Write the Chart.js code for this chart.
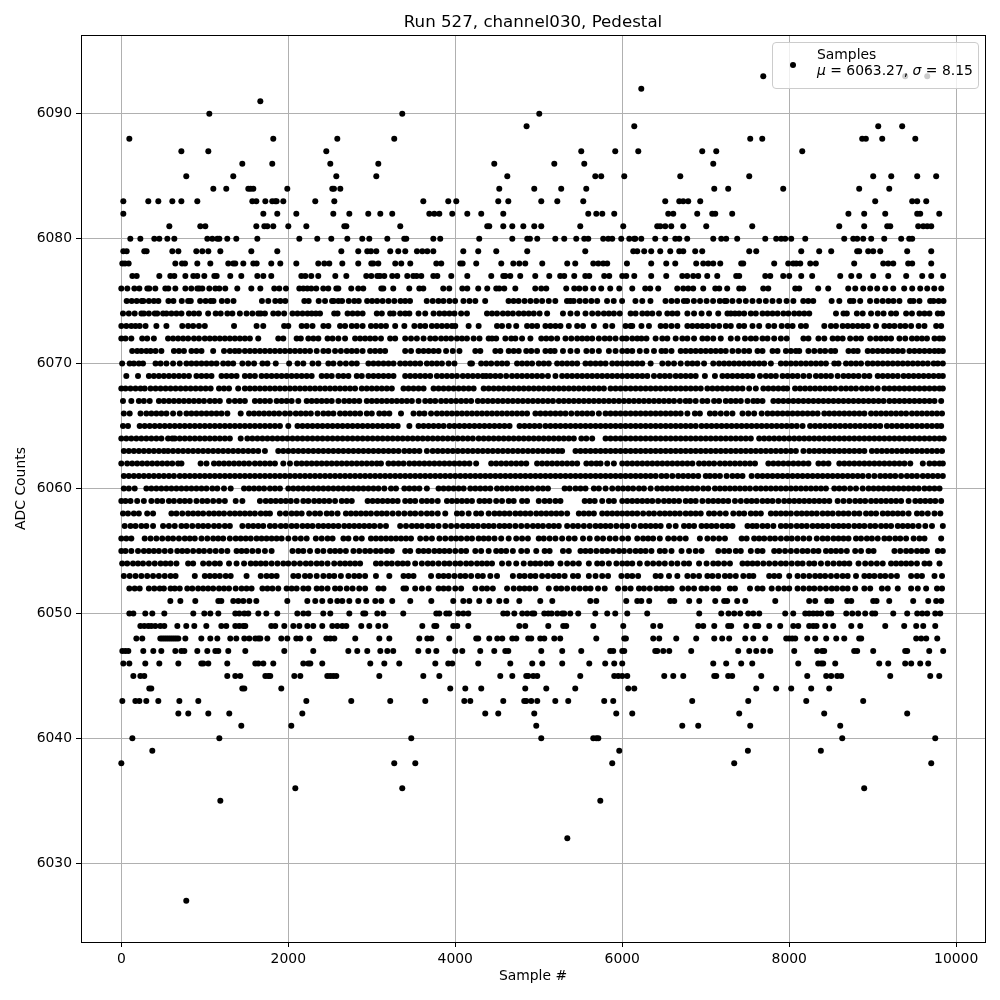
<!DOCTYPE html>
<html>
<head>
<meta charset="utf-8">
<title>Run 527, channel030, Pedestal</title>
<script src="https://cdn.jsdelivr.net/npm/chart.js@4/dist/chart.umd.min.js"></script>
<style>
  html, body { margin: 0; background: #fff; }
  #wrap { position: relative; width: 1000px; height: 1000px; }
  #legend {
    position: absolute; left: 772px; top: 42px; width: 205px; height: 45px;
    background: rgba(255,255,255,0.8); border: 1px solid #ccc; border-radius: 4px;
    font: 13.9px "DejaVu Sans"; color: #000; line-height: 16px;
  }
  #legend .dot { position: absolute; left: 17px; top: 19px; width: 6px; height: 6px; border-radius: 50%; background: #000; }
  #legend .txt { position: absolute; left: 44px; top: 3px; white-space: nowrap; }
</style>
</head>
<body>
<div id="wrap">
  <canvas id="c" width="1000" height="1000"></canvas>
  <div id="legend"><span class="dot"></span><div class="txt">Samples<br><i>μ</i> = 6063.27, <i>σ</i> = 8.15</div></div>
</div>
<script>
const xTicks = [0, 2000, 4000, 6000, 8000, 10000];
const yTicks = [6030, 6040, 6050, 6060, 6070, 6080, 6090];

// sample numbers, one list per ADC level
const s6027 = [778];
const s6032 = [5342];
const s6035 = [1186, 5737];
const s6036 = [2084, 3365, 8898];
const s6038 = [0, 3269, 3521, 5880, 7341, 9701];
const s6039 = [371, 5964, 7505, 8379];
const s6040 = [132, 1174, 3473, 5030, 5653, 5689, 5713, 8635, 9749];
const s6041 = [1437, 2036, 4970, 6719, 6910, 7533, 8611];
const s6042 = [683, 802, 1042, 1293, 2168, 4359, 4515, 4946, 5928, 6120, 7401, 8419, 9413];
const s6043 = [12, 168, 216, 299, 443, 695, 922, 2216, 2754, 3221, 3641, 4108, 4180, 4575, 4826, 4850, 4910, 4982, 5198, 5353, 5784, 5892, 6838, 7509, 8204, 8886];
const s6044 = [335, 359, 1449, 1473, 1916, 3940, 4120, 4311, 4838, 5090, 5437, 6072, 6144, 7605, 7844, 8024, 8263, 8479];
const s6045 = [144, 228, 275, 1269, 1365, 1425, 1725, 1760, 1784, 2072, 2144, 2467, 2503, 2539, 2575, 3090, 3617, 3809, 4539, 4683, 4850, 4874, 4934, 4982, 5497, 5904, 5952, 6000, 6060, 6503, 6611, 6731, 7102, 7126, 7269, 7317, 7665, 8216, 8443, 8503, 8575, 8623, 9210, 9689, 9797];
const s6046 = [24, 96, 287, 455, 683, 958, 982, 1042, 1269, 1605, 1641, 1701, 1820, 2180, 2240, 2264, 2407, 2982, 3150, 3329, 3761, 3916, 3964, 4275, 4659, 4922, 5042, 5281, 5605, 5796, 5904, 6000, 7090, 7245, 7425, 7557, 8108, 8347, 8383, 8407, 8551, 9078, 9186, 9389, 9461, 9569, 9665];
const s6047 = [12, 48, 84, 263, 383, 479, 647, 719, 755, 910, 1030, 1126, 1162, 1281, 1485, 1952, 2299, 2719, 2826, 2946, 3102, 3186, 3257, 3557, 3677, 3773, 4000, 4084, 4299, 4467, 4599, 4635, 5030, 5281, 5509, 5856, 5892, 6000, 6024, 6395, 6419, 6491, 6563, 6826, 7389, 7521, 7605, 7689, 7773, 8060, 8335, 8395, 8419, 8778, 8814, 9006, 9389, 9413, 9677, 9844];
const s6048 = [180, 251, 467, 491, 515, 539, 563, 587, 611, 635, 659, 683, 767, 958, 1066, 1150, 1305, 1377, 1473, 1533, 1605, 1641, 1665, 1749, 1916, 1988, 2096, 2144, 2252, 2455, 2503, 2551, 2802, 3090, 3210, 3569, 3665, 3713, 3928, 4251, 4275, 4407, 4503, 4563, 4683, 4731, 4874, 4910, 5018, 5066, 5186, 5257, 5689, 6024, 6044, 6371, 6443, 6647, 6886, 7102, 7197, 7281, 7473, 7569, 7713, 7964, 8000, 8036, 8072, 8216, 8311, 8443, 8563, 8659, 8838, 8862, 9521, 9581, 9641, 9773];
const s6049 = [228, 275, 323, 359, 407, 467, 515, 671, 778, 874, 1018, 1198, 1257, 1365, 1413, 1461, 1485, 1796, 1844, 1952, 2060, 2132, 2228, 2299, 2407, 2527, 2587, 2647, 2695, 2874, 2970, 3078, 3162, 3605, 3749, 3773, 3976, 4024, 4156, 4767, 4838, 5114, 5293, 5329, 5653, 6012, 6371, 6455, 6910, 6970, 7102, 7269, 7305, 7485, 7593, 7629, 7761, 7892, 8048, 8108, 8239, 8287, 8327, 8431, 8527, 8743, 8851, 9150, 9377, 9521, 9605, 9749];
const s6050 = [96, 144, 287, 371, 515, 862, 994, 1066, 1162, 1365, 1413, 1473, 1521, 1641, 1737, 1868, 2108, 2180, 2240, 2419, 2503, 2731, 2898, 2922, 3066, 3138, 3377, 3773, 3809, 3892, 3928, 4036, 4096, 4156, 4575, 4623, 4707, 4802, 4862, 4922, 4946, 5066, 5114, 5154, 5222, 5281, 5305, 5377, 5473, 5677, 5820, 5916, 6060, 6299, 6922, 7186, 7273, 7341, 7413, 7509, 7569, 7641, 7952, 8048, 8192, 8239, 8287, 8335, 8383, 8467, 8503, 8683, 8755, 8826, 8910, 8994, 9030, 9246, 9413, 9533, 9593, 9653, 9749, 9809];
const s6051 = [587, 707, 886, 1162, 1198, 1341, 1401, 1461, 1533, 1617, 1988, 2228, 2323, 2407, 2503, 2587, 2647, 2731, 2838, 2934, 3042, 3114, 3245, 3461, 3713, 3976, 4096, 4168, 4287, 4407, 4527, 4611, 4767, 5018, 5162, 5617, 5689, 6048, 6180, 6228, 6323, 6575, 6623, 6802, 6922, 7114, 7221, 7257, 7377, 7473, 7833, 8239, 8311, 8455, 8503, 8695, 8743, 9006, 9046, 9198, 9485, 9665, 9760, 9821];
const s6052 = [96, 160, 220, 330, 395, 460, 510, 590, 640, 700, 790, 850, 920, 980, 1040, 1100, 1170, 1230, 1290, 1370, 1440, 1500, 1560, 1690, 1750, 1810, 1880, 1980, 2040, 2100, 2180, 2240, 2340, 2400, 2470, 2560, 2620, 2700, 2770, 2850, 2920, 3080, 3140, 3380, 3410, 3520, 3600, 3680, 3800, 3860, 3920, 4000, 4070, 4240, 4320, 4380, 4450, 4620, 4700, 4770, 4830, 4890, 4960, 5120, 5210, 5270, 5340, 5420, 5490, 5560, 5620, 5710, 5790, 5950, 6030, 6100, 6200, 6260, 6330, 6410, 6470, 6530, 6590, 6720, 6790, 6860, 6950, 7010, 7090, 7150, 7290, 7350, 7530, 7620, 7680, 7790, 7870, 7940, 8000, 8100, 8170, 8240, 8300, 8370, 8440, 8510, 8570, 8640, 8700, 8790, 8900, 8970, 9110, 9180, 9300, 9460, 9540, 9640, 9770, 9830];
const s6053 = [30, 100, 170, 240, 310, 380, 450, 520, 590, 650, 880, 1000, 1060, 1120, 1180, 1250, 1310, 1500, 1670, 1740, 1800, 1860, 2060, 2120, 2200, 2260, 2340, 2420, 2490, 2550, 2630, 2720, 2790, 2850, 2920, 3050, 3210, 3380, 3440, 3500, 3710, 3800, 3860, 3920, 3990, 4060, 4120, 4190, 4270, 4330, 4420, 4500, 4690, 4770, 4830, 4900, 4960, 5040, 5110, 5180, 5240, 5310, 5410, 5470, 5600, 5680, 5760, 5830, 5990, 6060, 6120, 6190, 6400, 6460, 6560, 6660, 6780, 6850, 6920, 7020, 7080, 7150, 7230, 7290, 7360, 7450, 7520, 7570, 7760, 7820, 7880, 8000, 8100, 8170, 8240, 8310, 8370, 8430, 8500, 8570, 8640, 8700, 8800, 8900, 8960, 9020, 9090, 9150, 9220, 9290, 9460, 9530, 9590, 9740, 9830];
const s6054 = [10, 70, 140, 200, 260, 330, 400, 470, 530, 590, 660, 800, 860, 980, 1050, 1120, 1180, 1290, 1380, 1470, 1550, 1610, 1670, 1730, 1800, 1870, 1940, 2000, 2070, 2140, 2210, 2270, 2340, 2400, 2470, 2550, 2620, 2680, 2740, 2800, 2860, 3050, 3110, 3180, 3240, 3310, 3370, 3430, 3520, 3600, 3670, 3730, 3800, 3870, 3930, 4000, 4060, 4130, 4190, 4260, 4320, 4380, 4440, 4560, 4640, 4730, 4820, 4900, 4960, 5020, 5090, 5150, 5260, 5340, 5410, 5480, 5600, 5700, 5760, 5840, 5930, 6000, 6060, 6120, 6210, 6300, 6370, 6440, 6510, 6590, 6660, 6740, 6800, 6920, 7010, 7090, 7150, 7220, 7290, 7440, 7500, 7560, 7620, 7690, 7760, 7830, 7900, 7960, 8030, 8100, 8160, 8240, 8300, 8380, 8460, 8530, 8600, 8660, 8720, 8830, 8910, 8980, 9050, 9120, 9220, 9280, 9340, 9400, 9460, 9530, 9620, 9680, 9800];
const s6055 = [0, 50, 120, 200, 270, 330, 390, 450, 520, 590, 670, 730, 790, 860, 930, 990, 1060, 1130, 1200, 1270, 1380, 1440, 1500, 1570, 1640, 1720, 1800, 2050, 2120, 2180, 2260, 2350, 2420, 2500, 2560, 2620, 2690, 2780, 2850, 2920, 2980, 3050, 3110, 3180, 3240, 3400, 3460, 3560, 3620, 3680, 3750, 3810, 3870, 3930, 4000, 4070, 4130, 4240, 4310, 4400, 4490, 4550, 4610, 4690, 4790, 4860, 4970, 5070, 5130, 5290, 5360, 5500, 5560, 5620, 5690, 5760, 5820, 5890, 5960, 6020, 6090, 6160, 6220, 6280, 6350, 6450, 6510, 6590, 6710, 6800, 6880, 6950, 7150, 7220, 7280, 7360, 7420, 7540, 7620, 7680, 7820, 7880, 7950, 8020, 8090, 8160, 8220, 8290, 8350, 8440, 8500, 8560, 8620, 8690, 8790, 8860, 8950, 9010, 9260, 9330, 9400, 9460, 9530, 9590, 9650, 9780, 9840];
const s6056 = [0, 60, 120, 280, 350, 420, 490, 560, 620, 690, 760, 820, 880, 960, 1030, 1100, 1160, 1220, 1300, 1370, 1430, 1490, 1550, 1620, 1680, 1740, 1800, 1860, 1920, 2000, 2080, 2150, 2220, 2330, 2400, 2470, 2530, 2660, 2720, 2810, 2880, 2990, 3050, 3110, 3170, 3230, 3290, 3350, 3410, 3470, 3580, 3650, 3720, 3810, 3880, 3950, 4010, 4070, 4140, 4200, 4280, 4340, 4400, 4470, 4550, 4640, 4730, 4800, 4870, 5000, 5060, 5130, 5200, 5280, 5360, 5430, 5530, 5610, 5700, 5770, 5850, 5920, 6000, 6070, 6180, 6250, 6310, 6370, 6450, 6550, 6620, 6690, 6760, 6930, 7020, 7090, 7160, 7230, 7430, 7490, 7580, 7640, 7700, 7770, 7830, 7900, 7970, 8030, 8100, 8170, 8240, 8330, 8400, 8460, 8530, 8590, 8650, 8710, 8800, 8860, 8930, 8990, 9060, 9140, 9200, 9270, 9330, 9400, 9490, 9560, 9620, 9820];
const s6057 = [40, 110, 170, 240, 300, 380, 500, 570, 640, 720, 780, 850, 920, 980, 1040, 1110, 1170, 1240, 1300, 1450, 1520, 1580, 1640, 1700, 1780, 1840, 1910, 1970, 2040, 2100, 2170, 2230, 2290, 2360, 2420, 2480, 2540, 2600, 2670, 2730, 2790, 2850, 2910, 2970, 3030, 3100, 3170, 3340, 3410, 3480, 3540, 3600, 3670, 3730, 3800, 3880, 3950, 4020, 4090, 4150, 4210, 4270, 4340, 4400, 4460, 4530, 4590, 4650, 4720, 4790, 4860, 4930, 4990, 5050, 5120, 5180, 5240, 5340, 5410, 5470, 5540, 5610, 5680, 5740, 5800, 5860, 5930, 6000, 6060, 6140, 6220, 6280, 6340, 6400, 6460, 6560, 6640, 6740, 6800, 6860, 6950, 7010, 7070, 7130, 7200, 7260, 7320, 7500, 7560, 7610, 7680, 7740, 7810, 7900, 7960, 8020, 8090, 8150, 8210, 8280, 8340, 8400, 8460, 8530, 8590, 8650, 8710, 8780, 8840, 8900, 8970, 9030, 9100, 9160, 9220, 9300, 9360, 9420, 9480, 9550, 9630, 9710, 9840];
const s6058 = [20, 80, 150, 210, 310, 380, 600, 660, 730, 800, 860, 920, 980, 1050, 1110, 1170, 1230, 1300, 1360, 1420, 1480, 1540, 1600, 1670, 1730, 1780, 1900, 1970, 2040, 2100, 2160, 2250, 2320, 2380, 2460, 2520, 2590, 2690, 2750, 2810, 2870, 2930, 2990, 3060, 3120, 3180, 3250, 3320, 3390, 3460, 3520, 3590, 3660, 3720, 3790, 3880, 4020, 4080, 4160, 4250, 4310, 4400, 4470, 4530, 4590, 4650, 4720, 4780, 4840, 4900, 4970, 5030, 5090, 5150, 5210, 5270, 5340, 5480, 5540, 5600, 5660, 5760, 5820, 5880, 5940, 6000, 6060, 6120, 6180, 6250, 6320, 6380, 6450, 6510, 6570, 6630, 6690, 6760, 6820, 6880, 6940, 7040, 7100, 7170, 7240, 7330, 7400, 7460, 7540, 7600, 7660, 7780, 7840, 7900, 7960, 8020, 8090, 8150, 8210, 8270, 8330, 8400, 8460, 8520, 8590, 8650, 8710, 8780, 8840, 8920, 8980, 9040, 9120, 9180, 9240, 9300, 9360, 9430, 9530, 9590, 9660, 9740, 9810];
const s6059 = [0, 50, 110, 190, 270, 360, 430, 490, 570, 630, 700, 760, 820, 900, 970, 1030, 1100, 1170, 1240, 1370, 1450, 1660, 1730, 1790, 1850, 1910, 1970, 2030, 2100, 2180, 2240, 2310, 2370, 2430, 2490, 2560, 2640, 2700, 2760, 2950, 3010, 3070, 3130, 3190, 3250, 3310, 3400, 3460, 3520, 3600, 3660, 3720, 3790, 3900, 3960, 4020, 4080, 4140, 4200, 4290, 4350, 4410, 4490, 4560, 4640, 4700, 4800, 4860, 5000, 5070, 5130, 5200, 5260, 5550, 5610, 5670, 5760, 5840, 5900, 6000, 6060, 6120, 6180, 6240, 6300, 6360, 6430, 6500, 6560, 6620, 6680, 6760, 6820, 6880, 6960, 7030, 7090, 7150, 7210, 7270, 7350, 7420, 7490, 7550, 7610, 7680, 7740, 7800, 7870, 7940, 8000, 8060, 8120, 8180, 8240, 8300, 8360, 8420, 8480, 8580, 8650, 8720, 8790, 8850, 8910, 8980, 9040, 9100, 9160, 9220, 9280, 9340, 9430, 9510, 9570, 9630, 9690, 9750, 9820];
const s6060 = [30, 90, 160, 300, 360, 420, 480, 540, 600, 660, 720, 780, 840, 900, 960, 1020, 1090, 1150, 1230, 1310, 1470, 1530, 1590, 1650, 1710, 1780, 1840, 1900, 2000, 2060, 2120, 2180, 2240, 2300, 2360, 2420, 2480, 2540, 2600, 2660, 2720, 2780, 2840, 2900, 2960, 3020, 3080, 3150, 3230, 3290, 3390, 3450, 3510, 3570, 3660, 3800, 3860, 3920, 3980, 4040, 4100, 4180, 4240, 4300, 4360, 4420, 4500, 4560, 4620, 4680, 4740, 4800, 4860, 4920, 4990, 5050, 5110, 5310, 5370, 5440, 5500, 5560, 5660, 5720, 5800, 5880, 5950, 6010, 6070, 6130, 6200, 6260, 6340, 6420, 6480, 6540, 6600, 6660, 6720, 6780, 6840, 6900, 6970, 7030, 7110, 7170, 7230, 7290, 7350, 7410, 7470, 7530, 7600, 7660, 7720, 7780, 7840, 7900, 7960, 8020, 8080, 8140, 8200, 8260, 8320, 8380, 8440, 8540, 8600, 8660, 8730, 8800, 8880, 8950, 9010, 9070, 9130, 9190, 9250, 9310, 9370, 9430, 9490, 9550, 9620, 9680, 9740, 9800];
const s6061 = [30, 90, 150, 210, 270, 330, 390, 450, 510, 570, 630, 700, 760, 820, 880, 940, 1000, 1060, 1120, 1180, 1240, 1300, 1360, 1420, 1480, 1540, 1600, 1660, 1720, 1780, 1840, 1900, 1960, 2020, 2080, 2140, 2200, 2260, 2320, 2380, 2440, 2500, 2560, 2620, 2680, 2740, 2800, 2860, 2920, 2980, 3040, 3100, 3160, 3220, 3280, 3340, 3400, 3460, 3520, 3580, 3640, 3700, 3760, 3820, 3880, 3940, 4000, 4060, 4120, 4180, 4240, 4300, 4360, 4420, 4480, 4540, 4600, 4660, 4720, 4780, 4840, 4900, 4960, 5020, 5080, 5140, 5200, 5260, 5320, 5380, 5440, 5500, 5560, 5620, 5680, 5740, 5800, 5860, 5920, 5980, 6040, 6100, 6160, 6220, 6280, 6340, 6400, 6470, 6530, 6600, 6670, 6730, 6790, 6850, 6910, 7000, 7050, 7110, 7170, 7250, 7320, 7380, 7440, 7550, 7620, 7680, 7740, 7800, 7860, 7920, 7980, 8040, 8100, 8160, 8220, 8280, 8340, 8400, 8460, 8520, 8580, 8640, 8700, 8760, 8820, 8880, 8950, 9020, 9090, 9150, 9210, 9270, 9340, 9410, 9470, 9530, 9600, 9660, 9720, 9780, 9840];
const s6062 = [0, 70, 130, 190, 250, 310, 370, 430, 490, 550, 610, 680, 720, 950, 1020, 1110, 1170, 1230, 1290, 1350, 1410, 1470, 1530, 1600, 1660, 1720, 1780, 1840, 1940, 2020, 2100, 2160, 2220, 2280, 2340, 2400, 2460, 2520, 2580, 2640, 2700, 2760, 2820, 2880, 2940, 3000, 3060, 3110, 3200, 3260, 3320, 3380, 3450, 3510, 3570, 3630, 3690, 3750, 3810, 3870, 3930, 3990, 4050, 4110, 4170, 4250, 4430, 4490, 4550, 4610, 4670, 4730, 4790, 4850, 4980, 5040, 5100, 5160, 5220, 5280, 5340, 5400, 5460, 5570, 5630, 5690, 5740, 5820, 5900, 6000, 6060, 6120, 6180, 6240, 6300, 6360, 6420, 6480, 6540, 6600, 6660, 6720, 6780, 6840, 6920, 6980, 7040, 7100, 7170, 7230, 7290, 7350, 7410, 7470, 7530, 7590, 7750, 7810, 7870, 7930, 7990, 8050, 8110, 8170, 8230, 8350, 8410, 8470, 8600, 8660, 8720, 8780, 8840, 8900, 8960, 9020, 9080, 9140, 9200, 9260, 9320, 9380, 9450, 9600, 9680, 9740, 9800, 9840];
const s6063 = [30, 90, 150, 210, 270, 330, 390, 450, 510, 560, 620, 680, 740, 800, 860, 920, 980, 1040, 1100, 1160, 1220, 1280, 1340, 1400, 1460, 1520, 1580, 1640, 1720, 1880, 1940, 2000, 2060, 2120, 2180, 2240, 2300, 2360, 2420, 2480, 2540, 2600, 2660, 2720, 2780, 2840, 2900, 2960, 3020, 3080, 3140, 3200, 3260, 3320, 3390, 3450, 3510, 3570, 3660, 3730, 3790, 3850, 3910, 3970, 4030, 4090, 4150, 4210, 4270, 4330, 4390, 4450, 4510, 4570, 4630, 4690, 4750, 4810, 4870, 4930, 4990, 5050, 5110, 5170, 5230, 5280, 5440, 5500, 5560, 5620, 5680, 5740, 5800, 5860, 5920, 5980, 6040, 6100, 6160, 6220, 6280, 6340, 6400, 6460, 6520, 6580, 6640, 6700, 6760, 6820, 6880, 6940, 7000, 7060, 7120, 7180, 7240, 7300, 7360, 7420, 7480, 7540, 7600, 7660, 7720, 7780, 7840, 7900, 7960, 8020, 8080, 8170, 8240, 8300, 8360, 8420, 8480, 8540, 8600, 8660, 8720, 8780, 8840, 8900, 8990, 9050, 9110, 9170, 9230, 9290, 9350, 9410, 9470, 9530, 9590, 9650, 9710, 9770, 9830];
const s6064 = [0, 60, 120, 180, 240, 300, 360, 420, 480, 560, 610, 640, 700, 760, 820, 880, 940, 1000, 1060, 1120, 1180, 1240, 1300, 1430, 1510, 1570, 1630, 1690, 1750, 1810, 1870, 1930, 1990, 2050, 2110, 2170, 2230, 2290, 2350, 2410, 2470, 2530, 2590, 2650, 2710, 2770, 2830, 2890, 2950, 3010, 3070, 3130, 3190, 3250, 3310, 3370, 3430, 3490, 3550, 3610, 3670, 3730, 3790, 3850, 3910, 3970, 4030, 4090, 4150, 4210, 4280, 4340, 4400, 4460, 4520, 4580, 4640, 4700, 4760, 4820, 4880, 4940, 5000, 5060, 5120, 5180, 5240, 5300, 5360, 5420, 5510, 5570, 5640, 5800, 5860, 5920, 5980, 6040, 6100, 6160, 6220, 6280, 6340, 6400, 6460, 6520, 6580, 6640, 6700, 6760, 6820, 6880, 6940, 7000, 7060, 7120, 7180, 7240, 7300, 7360, 7420, 7480, 7540, 7640, 7700, 7760, 7820, 7880, 7940, 8000, 8060, 8120, 8180, 8240, 8300, 8360, 8420, 8480, 8540, 8600, 8660, 8720, 8780, 8840, 8900, 8960, 9020, 9080, 9140, 9200, 9260, 9320, 9380, 9440, 9500, 9560, 9620, 9680, 9740, 9800, 9850];
const s6065 = [20, 80, 220, 280, 340, 400, 460, 520, 580, 640, 700, 760, 820, 880, 940, 1000, 1060, 1120, 1180, 1240, 1300, 1360, 1420, 1480, 1540, 1600, 1660, 1720, 1780, 1840, 1900, 2000, 2110, 2170, 2230, 2290, 2350, 2410, 2470, 2530, 2590, 2650, 2710, 2770, 2830, 2890, 2950, 3010, 3070, 3130, 3190, 3250, 3310, 3450, 3560, 3620, 3680, 3740, 3800, 3860, 3930, 3990, 4050, 4110, 4170, 4230, 4290, 4350, 4410, 4470, 4530, 4590, 4650, 4770, 4830, 4890, 4950, 5010, 5080, 5140, 5200, 5260, 5320, 5380, 5440, 5500, 5560, 5620, 5680, 5740, 5800, 5860, 5920, 5980, 6040, 6100, 6160, 6220, 6280, 6340, 6400, 6460, 6520, 6580, 6640, 6700, 6760, 6820, 6880, 6950, 7010, 7070, 7130, 7190, 7250, 7310, 7370, 7430, 7490, 7550, 7610, 7670, 7730, 7790, 7850, 7910, 7970, 8030, 8090, 8160, 8250, 8310, 8370, 8430, 8490, 8550, 8610, 8670, 8730, 8790, 8850, 8910, 8970, 9030, 9090, 9170, 9230, 9290, 9350, 9410, 9470, 9530, 9590, 9650, 9710, 9770, 9820];
const s6066 = [30, 100, 230, 300, 360, 420, 480, 540, 620, 700, 780, 840, 900, 960, 1020, 1080, 1140, 1200, 1270, 1430, 1530, 1590, 1650, 1710, 1770, 1830, 1890, 1960, 2020, 2090, 2150, 2210, 2270, 2350, 2420, 2480, 2540, 2620, 2680, 2740, 2800, 2860, 2940, 3000, 3090, 3150, 3210, 3350, 3500, 3570, 3630, 3710, 3780, 3840, 3900, 3960, 4020, 4080, 4140, 4200, 4260, 4320, 4380, 4440, 4500, 4560, 4620, 4680, 4740, 4800, 4860, 4960, 5020, 5080, 5140, 5200, 5260, 5320, 5390, 5460, 5520, 5580, 5640, 5720, 5800, 5860, 5920, 5980, 6040, 6100, 6160, 6220, 6280, 6340, 6400, 6460, 6520, 6580, 6640, 6700, 6780, 6870, 6930, 7050, 7110, 7180, 7250, 7320, 7440, 7510, 7580, 7670, 7740, 7800, 7860, 7920, 7980, 8040, 8100, 8160, 8220, 8280, 8340, 8420, 8480, 8540, 8600, 8660, 8720, 8780, 8840, 8900, 8980, 9040, 9100, 9160, 9220, 9280, 9340, 9400, 9470, 9530, 9590, 9650, 9710, 9770, 9830];
const s6067 = [20, 120, 210, 270, 340, 450, 510, 570, 630, 690, 750, 810, 870, 930, 990, 1060, 1120, 1180, 1290, 1360, 1420, 1480, 1600, 1660, 1720, 1780, 1860, 1920, 1980, 2040, 2120, 2220, 2280, 2340, 2400, 2460, 2520, 2600, 2670, 2730, 2790, 2850, 2940, 3000, 3060, 3120, 3180, 3240, 3300, 3360, 3420, 3480, 3560, 3640, 3700, 3760, 3830, 3890, 3950, 4010, 4070, 4130, 4190, 4270, 4330, 4390, 4450, 4510, 4570, 4630, 4690, 4750, 4810, 4870, 4930, 4990, 5050, 5110, 5170, 5240, 5300, 5360, 5420, 5480, 5540, 5600, 5660, 5720, 5780, 5840, 5900, 5960, 6020, 6080, 6140, 6200, 6260, 6320, 6380, 6440, 6500, 6560, 6620, 6690, 6760, 6810, 6880, 6960, 7020, 7100, 7160, 7240, 7300, 7360, 7420, 7500, 7570, 7620, 7680, 7810, 7870, 7930, 7990, 8050, 8110, 8170, 8230, 8290, 8350, 8410, 8470, 8530, 8590, 8650, 8710, 8770, 8830, 8890, 8950, 9010, 9070, 9130, 9200, 9260, 9320, 9380, 9440, 9500, 9560, 9620, 9680, 9740, 9820];
const s6068 = [0, 50, 110, 170, 230, 280, 350, 410, 470, 530, 590, 650, 710, 770, 830, 890, 950, 1010, 1070, 1170, 1230, 1290, 1400, 1480, 1540, 1600, 1660, 1720, 1780, 1840, 1900, 1960, 2020, 2080, 2140, 2200, 2260, 2320, 2380, 2440, 2500, 2560, 2620, 2680, 2740, 2800, 2880, 2940, 3000, 3060, 3120, 3180, 3240, 3380, 3440, 3500, 3560, 3620, 3740, 3800, 3860, 3920, 3980, 4040, 4100, 4160, 4220, 4340, 4400, 4460, 4520, 4580, 4640, 4700, 4760, 4820, 4880, 4940, 5000, 5060, 5120, 5180, 5240, 5300, 5360, 5420, 5480, 5540, 5600, 5660, 5720, 5780, 5860, 5920, 5980, 6040, 6100, 6160, 6220, 6280, 6340, 6400, 6460, 6520, 6580, 6640, 6700, 6760, 6820, 6880, 6940, 7020, 7080, 7140, 7200, 7260, 7320, 7380, 7440, 7520, 7600, 7690, 7750, 7810, 7870, 7930, 7975, 8070, 8130, 8190, 8250, 8310, 8370, 8430, 8490, 8550, 8620, 8680, 8740, 8800, 8870, 8930, 8990, 9060, 9140, 9200, 9260, 9320, 9380, 9440, 9500, 9560, 9620, 9680, 9740, 9800, 9840];
const s6069 = [60, 200, 330, 390, 450, 510, 570, 630, 690, 750, 810, 900, 960, 1020, 1080, 1200, 1260, 1320, 1380, 1480, 1540, 1600, 1680, 1740, 1800, 1860, 1920, 1980, 2040, 2100, 2160, 2220, 2280, 2400, 2460, 2520, 2600, 2660, 2720, 2820, 2880, 2960, 3020, 3080, 3140, 3200, 3260, 3400, 3460, 3520, 3580, 3640, 3700, 3780, 3840, 3900, 3960, 4020, 4090, 4150, 4210, 4270, 4330, 4370, 4420, 4480, 4540, 4610, 4680, 4740, 4800, 4860, 4920, 4980, 5040, 5110, 5200, 5280, 5340, 5400, 5460, 5520, 5580, 5640, 5700, 5760, 5820, 5880, 5940, 6000, 6060, 6120, 6180, 6240, 6300, 6380, 6450, 6510, 6570, 6640, 6700, 6760, 6820, 6880, 6990, 7110, 7200, 7260, 7320, 7380, 7440, 7500, 7560, 7650, 7720, 7780, 7840, 7920, 7980, 8040, 8100, 8170, 8240, 8320, 8380, 8440, 8500, 8580, 8650, 8710, 8770, 8830, 8900, 8960, 9060, 9120, 9180, 9240, 9300, 9370, 9430, 9490, 9550, 9610, 9670, 9730, 9790, 9840];
const s6070 = [10, 100, 150, 210, 260, 410, 470, 540, 620, 700, 780, 840, 900, 960, 1020, 1080, 1140, 1220, 1280, 1340, 1450, 1520, 1590, 1690, 1750, 1850, 2010, 2110, 2180, 2290, 2360, 2480, 2540, 2620, 2690, 2760, 2820, 2960, 3020, 3080, 3140, 3200, 3260, 3340, 3400, 3460, 3520, 3580, 3660, 3720, 3780, 3840, 3920, 3990, 4180, 4200, 4310, 4370, 4430, 4500, 4560, 4620, 4740, 4800, 4860, 4920, 5000, 5060, 5120, 5220, 5280, 5340, 5400, 5460, 5560, 5620, 5680, 5740, 5800, 5880, 5940, 6000, 6060, 6120, 6180, 6240, 6340, 6480, 6550, 6620, 6700, 6780, 6840, 6900, 6980, 7090, 7160, 7220, 7280, 7340, 7400, 7460, 7520, 7580, 7640, 7700, 7780, 7900, 7960, 8020, 8080, 8140, 8200, 8260, 8320, 8380, 8440, 8540, 8590, 8680, 8740, 8800, 8860, 8940, 9000, 9060, 9120, 9180, 9240, 9300, 9360, 9420, 9480, 9540, 9600, 9660, 9730, 9780, 9840];
const s6071 = [130, 190, 240, 300, 350, 410, 480, 630, 690, 750, 840, 900, 960, 1100, 1230, 1300, 1360, 1410, 1480, 1540, 1600, 1660, 1720, 1780, 1840, 1900, 1960, 2020, 2080, 2140, 2200, 2260, 2340, 2420, 2480, 2560, 2630, 2700, 2760, 2820, 2890, 2980, 3040, 3100, 3160, 3400, 3470, 3560, 3620, 3680, 3740, 3800, 3890, 3970, 4050, 4240, 4300, 4480, 4540, 4640, 4700, 4760, 4850, 4910, 4980, 5080, 5140, 5190, 5290, 5380, 5460, 5570, 5640, 5720, 5840, 5920, 6000, 6060, 6120, 6210, 6290, 6380, 6470, 6520, 6590, 6700, 6760, 6820, 6880, 6940, 7000, 7060, 7120, 7180, 7240, 7320, 7390, 7460, 7520, 7620, 7680, 7800, 7860, 7960, 8020, 8080, 8120, 8230, 8300, 8370, 8430, 8500, 8550, 8710, 8770, 8820, 8940, 9000, 9060, 9120, 9180, 9240, 9300, 9360, 9440, 9500, 9560, 9620, 9680, 9740, 9790, 9840];
const s6072 = [0, 50, 120, 250, 310, 390, 560, 620, 680, 740, 800, 870, 930, 1000, 1060, 1120, 1180, 1240, 1300, 1360, 1420, 1480, 1540, 1640, 1880, 1940, 2100, 2150, 2240, 2300, 2360, 2470, 2530, 2600, 2680, 2800, 2860, 2920, 2980, 3040, 3110, 3220, 3280, 3400, 3470, 3540, 3620, 3700, 3760, 3830, 3890, 3950, 4020, 4080, 4140, 4220, 4290, 4400, 4440, 4490, 4600, 4670, 4720, 4800, 4900, 5030, 5090, 5150, 5220, 5320, 5390, 5460, 5520, 5580, 5640, 5720, 5790, 5850, 5920, 6000, 6050, 6120, 6180, 6230, 6290, 6400, 6480, 6540, 6640, 6720, 6780, 6860, 6960, 7020, 7090, 7180, 7300, 7380, 7470, 7540, 7600, 7680, 7740, 7820, 7900, 7970, 8170, 8230, 8350, 8420, 8520, 8580, 8640, 8730, 8800, 8860, 8970, 9040, 9100, 9160, 9220, 9320, 9390, 9470, 9530, 9590, 9650, 9740, 9800, 9840];
const s6073 = [0, 60, 120, 170, 220, 290, 420, 540, 730, 800, 860, 930, 1000, 1350, 1620, 1700, 1950, 2000, 2160, 2220, 2290, 2420, 2480, 2620, 2680, 2760, 2820, 2890, 2990, 3050, 3110, 3170, 3280, 3390, 3510, 3580, 3640, 3720, 3780, 3840, 3900, 3960, 4000, 4160, 4280, 4500, 4560, 4640, 4730, 4860, 4920, 4980, 5080, 5140, 5200, 5260, 5360, 5460, 5530, 5660, 5800, 5880, 6040, 6100, 6120, 6230, 6320, 6460, 6520, 6590, 6660, 6780, 6840, 6900, 6960, 7020, 7090, 7160, 7240, 7300, 7400, 7460, 7560, 7640, 7750, 7820, 7910, 7980, 8040, 8140, 8200, 8420, 8500, 8560, 8640, 8700, 8760, 8820, 8880, 8940, 9040, 9140, 9200, 9260, 9330, 9390, 9460, 9550, 9620, 9760, 9820];
const s6074 = [20, 90, 160, 240, 270, 330, 400, 430, 500, 540, 600, 660, 720, 810, 870, 930, 1040, 1130, 1190, 1270, 1330, 1420, 1500, 1570, 1640, 1670, 1720, 1820, 1880, 1950, 2050, 2110, 2170, 2230, 2280, 2330, 2380, 2550, 2590, 2710, 2770, 2830, 2890, 3060, 3120, 3220, 3260, 3340, 3400, 3450, 3560, 3640, 3740, 3810, 3870, 3930, 3990, 4070, 4140, 4380, 4440, 4500, 4570, 4630, 4690, 4760, 4820, 4880, 4940, 5010, 5100, 5290, 5380, 5460, 5560, 5640, 5710, 5780, 5840, 5900, 5970, 6100, 6160, 6240, 6300, 6360, 6440, 6540, 6600, 6660, 6780, 6860, 6950, 7040, 7150, 7260, 7300, 7350, 7400, 7460, 7540, 7600, 7680, 7740, 7800, 7860, 7930, 7990, 8060, 8120, 8180, 8240, 8560, 8650, 8690, 8810, 8880, 8980, 9060, 9130, 9220, 9280, 9400, 9470, 9560, 9620, 9680, 9780, 9830];
const s6075 = [64, 124, 184, 244, 264, 330, 390, 444, 564, 624, 724, 800, 832, 944, 1010, 1070, 1104, 1204, 1270, 1344, 1684, 1760, 1844, 1904, 1964, 2192, 2244, 2364, 2440, 2524, 2544, 2600, 2644, 2724, 2790, 2844, 2944, 3004, 3064, 3130, 3200, 3270, 3344, 3400, 3458, 3658, 3730, 3798, 3858, 3930, 3998, 4098, 4170, 4240, 4358, 4638, 4698, 4758, 4830, 4900, 4970, 5040, 5120, 5198, 5338, 5378, 5418, 5490, 5560, 5630, 5700, 5818, 5898, 5998, 6158, 6240, 6338, 6518, 6590, 6658, 6738, 6778, 6858, 6932, 7010, 7088, 7168, 7228, 7248, 7320, 7400, 7480, 7560, 7640, 7720, 7800, 7880, 7968, 8050, 8168, 8228, 8288, 8508, 8600, 8728, 8768, 8850, 8968, 9048, 9120, 9188, 9248, 9320, 9448, 9488, 9560, 9688, 9728, 9790, 9848];
const s6076 = [0, 72, 156, 216, 311, 335, 407, 527, 563, 647, 767, 838, 910, 934, 970, 1054, 1126, 1174, 1245, 1389, 1557, 1665, 1832, 1892, 1972, 2132, 2180, 2228, 2275, 2335, 2419, 2479, 2575, 2599, 2754, 2838, 2898, 3114, 3138, 3257, 3449, 3569, 3617, 3856, 3928, 4084, 4144, 4275, 4383, 4491, 4527, 4587, 4719, 4958, 5030, 5090, 5329, 5425, 5485, 5557, 5653, 5748, 5856, 5964, 6120, 6275, 6335, 6431, 6659, 6731, 6790, 6850, 6970, 7114, 7162, 7257, 7401, 7449, 7689, 7749, 8072, 8120, 8347, 8467, 8707, 8791, 8886, 8970, 9054, 9150, 9246, 9377, 9473, 9569, 9653, 9737, 9821];
const s6077 = [132, 184, 455, 587, 635, 767, 862, 910, 994, 1114, 1142, 1305, 1437, 1629, 1701, 1796, 2156, 2204, 2275, 2359, 2563, 2695, 2934, 2994, 3066, 3098, 3150, 3245, 3305, 3425, 3497, 3537, 3593, 3737, 3785, 3952, 4144, 4431, 4575, 4599, 4659, 4778, 4958, 5126, 5257, 5305, 5425, 5557, 5605, 5784, 5844, 6000, 6048, 6144, 6347, 6527, 6719, 6778, 6850, 6910, 7018, 7138, 7365, 7401, 7713, 7773, 7928, 8000, 8144, 8275, 8611, 8743, 8838, 9006, 9186, 9401, 9593, 9701, 9844];
const s6078 = [12, 44, 88, 647, 727, 763, 910, 1066, 1281, 1341, 1365, 1461, 1581, 1621, 1796, 1904, 2096, 2359, 2431, 2491, 2647, 2838, 2994, 3018, 3078, 3281, 3353, 3461, 3773, 3832, 4060, 4088, 4251, 4551, 4695, 4767, 4838, 5042, 5341, 5437, 5653, 5713, 5772, 5820, 6056, 6347, 6527, 6635, 6886, 6970, 7030, 7090, 7174, 7425, 7449, 7820, 7988, 8048, 8084, 8132, 8252, 8319, 8778, 9126, 9186, 9246, 9425, 9473, 9701];
const s6079 = [24, 64, 275, 303, 611, 683, 898, 970, 1042, 1186, 1557, 1868, 2635, 2838, 2946, 2990, 3054, 3221, 3317, 3401, 3541, 3605, 3665, 3737, 4096, 4275, 4491, 4862, 5557, 6132, 6180, 6263, 6347, 6455, 6575, 6683, 6731, 6874, 6958, 7521, 7605, 8144, 8359, 8503, 8814, 8838, 8946, 9006, 9090, 9413, 9701];
const s6080 = [108, 228, 395, 455, 551, 635, 1030, 1090, 1150, 1174, 1269, 1377, 1629, 2132, 2347, 2515, 2707, 2886, 2970, 3186, 3389, 3413, 3737, 3820, 4287, 4683, 4862, 4894, 4982, 5198, 5305, 5449, 5545, 5593, 5772, 5832, 5880, 5988, 6084, 6144, 6156, 6228, 6395, 6515, 6635, 6683, 6778, 7090, 7186, 7245, 7377, 7713, 7844, 7904, 7952, 8024, 8192, 8659, 8767, 8814, 8886, 8982, 9138, 9341, 9437, 9473];
const s6081 = [575, 946, 1006, 1617, 1713, 1749, 1820, 2000, 2216, 2671, 2695, 3341, 4383, 4407, 4575, 4683, 4815, 4946, 5030, 5497, 6012, 6419, 6455, 6515, 6587, 6731, 7006, 7557, 8599, 8898, 9174, 9210, 9545, 9605, 9653, 9701];
const s6082 = [24, 1701, 1868, 2096, 2539, 2731, 2958, 3102, 3245, 3689, 3749, 3809, 3964, 4144, 4311, 4575, 5593, 5689, 5761, 5904, 6551, 6611, 6898, 7078, 7114, 7317, 8709, 8898, 9150, 9533, 9569, 9797];
const s6083 = [24, 323, 443, 611, 719, 910, 1569, 1617, 1725, 1808, 1844, 1860, 1940, 2323, 2551, 3617, 3916, 4012, 4515, 4635, 5030, 5222, 5533, 6515, 6683, 6731, 6790, 6934, 9030, 9473, 9533, 9641];
const s6084 = [1102, 1257, 1521, 1549, 1581, 1988, 2527, 2547, 2623, 4527, 4946, 5269, 5569, 7102, 7269, 7928, 8838, 9198];
const s6085 = [778, 1341, 2575, 3054, 4623, 5677, 5748, 6024, 6695, 7521, 9006, 9222, 9533, 9760];
const s6086 = [1449, 1808, 2503, 3078, 4467, 5186, 5545, 7090];
const s6087 = [719, 1042, 2455, 5509, 5916, 6192, 6958, 7126, 8156];
const s6088 = [96, 1820, 2587, 3269, 7533, 7677, 8874, 8918, 9114, 9510];
const s6089 = [4854, 6144, 9066, 9353];
const s6090 = [1054, 3365, 5006];
const s6091 = [1665];
const s6092 = [6228];
const s6093 = [7689, 9389, 9653];

const adcLevels = [6027, 6032, 6035, 6036, 6038, 6039, 6040, 6041, 6042, 6043, 6044, 6045, 6046, 6047, 6048, 6049, 6050, 6051, 6052, 6053, 6054, 6055, 6056, 6057, 6058, 6059, 6060, 6061, 6062, 6063, 6064, 6065, 6066, 6067, 6068, 6069, 6070, 6071, 6072, 6073, 6074, 6075, 6076, 6077, 6078, 6079, 6080, 6081, 6082, 6083, 6084, 6085, 6086, 6087, 6088, 6089, 6090, 6091, 6092, 6093];
const levelSamples = [s6027, s6032, s6035, s6036, s6038, s6039, s6040, s6041, s6042, s6043, s6044, s6045, s6046, s6047, s6048, s6049, s6050, s6051, s6052, s6053, s6054, s6055, s6056, s6057, s6058, s6059, s6060, s6061, s6062, s6063, s6064, s6065, s6066, s6067, s6068, s6069, s6070, s6071, s6072, s6073, s6074, s6075, s6076, s6077, s6078, s6079, s6080, s6081, s6082, s6083, s6084, s6085, s6086, s6087, s6088, s6089, s6090, s6091, s6092, s6093];

const points = [];
adcLevels.forEach((level, i) => {
  levelSamples[i].forEach(s => points.push({ x: s, y: level }));
});

const fontFamily = "'DejaVu Sans'";

// frame and title sit on the plot area
const framePlugin = {
  id: "frame",
  afterDraw(chart) {
    const { ctx, chartArea: a } = chart;
    ctx.save();
    ctx.strokeStyle = "#000";
    ctx.lineWidth = 1;
    ctx.strokeRect(a.left + 0.5, a.top + 0.5, a.right - a.left, a.bottom - a.top);
    ctx.fillStyle = "#000";
    ctx.font = "16.67px " + fontFamily;
    ctx.textAlign = "center";
    ctx.textBaseline = "alphabetic";
    ctx.fillText("Run 527, channel030, Pedestal", (a.left + a.right) / 2, 27);
    ctx.restore();
  }
};

new Chart(document.getElementById("c"), {
  type: "scatter",
  data: {
    datasets: [{
      label: "Samples",
      data: points,
      backgroundColor: "#000",
      borderWidth: 0,
      pointRadius: 3,
      pointHoverRadius: 3
    }]
  },
  options: {
    responsive: false,
    animation: false,
    layout: { padding: { top: 35, right: 15 } },
    plugins: { legend: { display: false }, tooltip: { enabled: false } },
    scales: {
      x: {
        type: "linear",
        min: -483,
        max: 10345,
        afterBuildTicks: scale => { scale.ticks = xTicks.map(v => ({ value: v })); },
        afterFit: scale => { scale.height = 58; },
        grid: { color: "#b0b0b0", lineWidth: 1, tickColor: "#000", tickLength: 5 },
        border: { display: false },
        ticks: { color: "#000", font: { family: fontFamily, size: 13.9 }, padding: 4, maxRotation: 0, autoSkip: false, callback: v => String(v) },
        title: { display: true, text: "Sample #", color: "#000", font: { family: fontFamily, size: 13.9 }, padding: { top: 1, bottom: 15 } }
      },
      y: {
        type: "linear",
        min: 6023.7,
        max: 6096.3,
        afterBuildTicks: scale => { scale.ticks = yTicks.map(v => ({ value: v })); },
        afterFit: scale => { scale.width = 81; },
        grid: { color: "#b0b0b0", lineWidth: 1, tickColor: "#000", tickLength: 5 },
        border: { display: false },
        ticks: { color: "#000", font: { family: fontFamily, size: 13.9 }, padding: 4, autoSkip: false, callback: v => String(v) },
        title: { display: true, text: "ADC Counts", color: "#000", font: { family: fontFamily, size: 13.9 }, padding: { top: 13, bottom: 0 } }
      }
    }
  },
  plugins: [framePlugin]
});
</script>
</body>
</html>
